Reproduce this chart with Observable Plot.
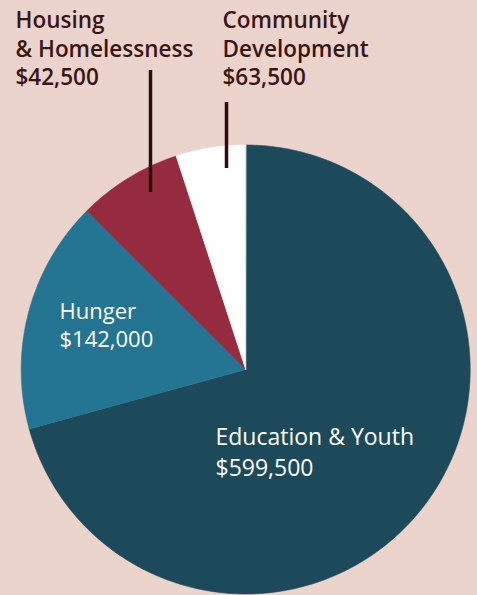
<!DOCTYPE html>
<html><head><meta charset="utf-8">
<script src="https://cdn.jsdelivr.net/npm/d3@7"></script>
<script src="https://cdn.jsdelivr.net/npm/@observablehq/plot@0.6"></script>
<style>
html,body{margin:0;padding:0;background:#ead4cc;}
#chart svg{display:block;}
</style></head><body><div id="chart"></div>
<script>
// Data (clockwise from 12 o'clock, as drawn)
const categories = ["Education & Youth", "Hunger", "Community\nDevelopment", "Housing\n& Homelessness"];
const amounts = [599500, 142000, 63500, 42500];
const colors = ["#1c4a5b", "#237591", "#962a3e", "#ffffff"];

// Layout
const W = 477, H = 595, cx = 245.2, cy = 369, R = 224.5;
const labelLayout = [
  {x: 215, y: 422, fill: "#ffffff", weight: 400, size: 23, lh: 1.37},
  {x: 59, y: 298, fill: "#ffffff", weight: 400, size: 22, lh: 1.28},
  {x: 222, y: 7.5, fill: "#3b1414", weight: 600, size: 22.5, lh: 1.27},
  {x: 15, y: 7.5, fill: "#3b1414", weight: 600, size: 22.5, lh: 1.27}
];
const leaders = [
  {x: 226, y1: 102, y2: 168},
  {x: 150, y1: 70, y2: 192}
];

const rows = categories.map((c, i) => ({category: c, amount: amounts[i], color: colors[i]}));
const arcs = d3.pie().sort(null).value(d => d.amount)(rows);
const fmt = d3.format("$,");

const sliceMarks = arcs.map(a => {
  const pts = [{x: cx, y: cy}];
  const n = Math.max(4, Math.ceil((a.endAngle - a.startAngle) * 180 / Math.PI * 2));
  for (let j = 0; j <= n; j++) {
    const t = a.startAngle + (a.endAngle - a.startAngle) * j / n;
    pts.push({x: cx + R * Math.sin(t), y: cy - R * Math.cos(t)});
  }
  return Plot.line(pts, {x: "x", y: "y", curve: "linear-closed", fill: a.data.color, stroke: a.data.color, strokeWidth: 0.6});
});

const textMarks = rows.map((r, i) => {
  const L = labelLayout[i];
  return Plot.text([r], {
    x: () => L.x, y: () => L.y,
    text: d => d.category + "\n" + fmt(d.amount),
    textAnchor: "start", lineAnchor: "top", lineHeight: L.lh,
    fill: L.fill, fontSize: L.size, fontWeight: L.weight,
    fontFamily: "Open Sans"
  });
});

const chart = Plot.plot({
  width: W, height: H, margin: 0,
  x: {domain: [0, W], range: [0, W], axis: null},
  y: {domain: [0, H], range: [0, H], axis: null},
  style: {background: "#ead4cc", fontFamily: "Open Sans"},
  marks: [
    ...sliceMarks,
    Plot.ruleX(leaders, {x: "x", y1: "y1", y2: "y2", stroke: "#2e0b0b", strokeWidth: 3.5}),
    ...textMarks
  ]
});
document.getElementById("chart").appendChild(chart);
</script>
</body></html>
